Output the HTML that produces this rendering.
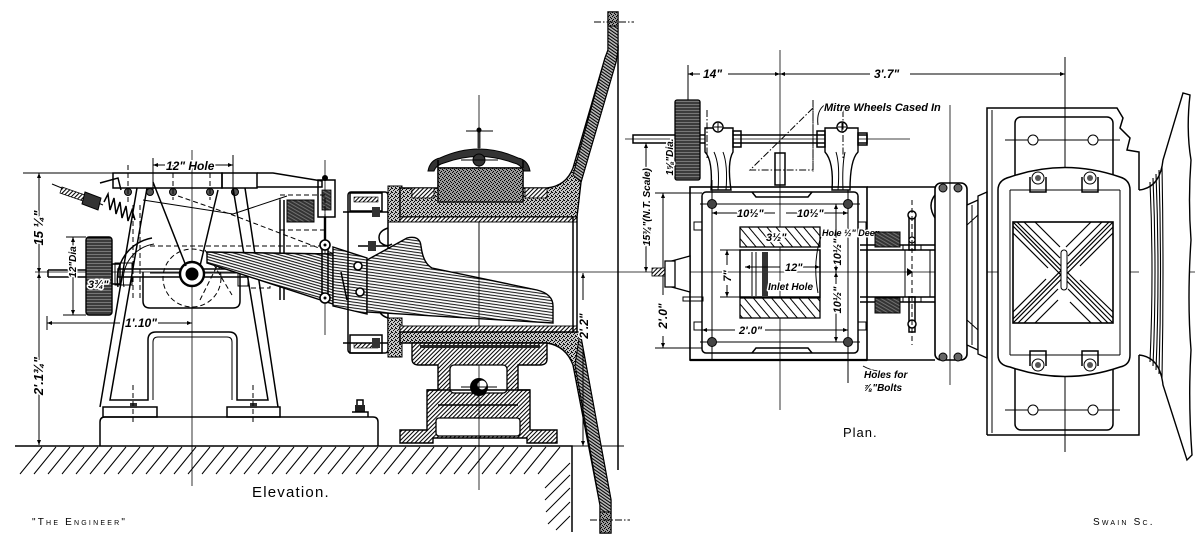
<!DOCTYPE html>
<html><head><meta charset="utf-8">
<style>
html,body{margin:0;padding:0;background:#fff;}
svg{display:block;}
text{font-family:"Liberation Sans",sans-serif;fill:#000;}
.d{font-style:italic;font-weight:bold;paint-order:stroke;stroke:#fff;stroke-width:3px;stroke-linejoin:round;}
.s{fill:none;stroke:#000;stroke-width:1.5;}
.t{fill:none;stroke:#000;stroke-width:1;}
.c{fill:none;stroke:#000;stroke-width:0.8;}
.dash{fill:none;stroke:#000;stroke-width:1;stroke-dasharray:5 3;}
.dd{fill:none;stroke:#000;stroke-width:1;stroke-dasharray:7 2 1.5 2;}
</style></head><body>
<svg width="1200" height="546" viewBox="0 0 1200 546" xmlns="http://www.w3.org/2000/svg">
<defs>
<marker id="ar" viewBox="0 0 10 10" refX="10" refY="5" markerWidth="7" markerHeight="5" orient="auto" markerUnits="userSpaceOnUse"><path d="M0 1 L10 5 L0 9 Z" fill="#000"/></marker>
<pattern id="h45" width="3" height="3" patternUnits="userSpaceOnUse" patternTransform="rotate(45)"><rect width="3" height="3" fill="#fff"/><line x1="0.5" y1="0" x2="0.5" y2="3" stroke="#000" stroke-width="1.1"/></pattern>
<pattern id="hw" width="2.6" height="2.6" patternUnits="userSpaceOnUse" patternTransform="rotate(-55)"><rect width="2.6" height="2.6" fill="#bbb"/><line x1="0.5" y1="0" x2="0.5" y2="2.6" stroke="#000" stroke-width="1.1"/></pattern>
<pattern id="st" width="4" height="4" patternUnits="userSpaceOnUse"><rect width="4" height="4" fill="#c4c4c4"/><rect x="0" y="0" width="1" height="1" fill="#000"/><rect x="2" y="1" width="1" height="1" fill="#000"/><rect x="1" y="2" width="1" height="1" fill="#111"/><rect x="3" y="3" width="1" height="1" fill="#000"/><rect x="3" y="0" width="1" height="1" fill="#333"/></pattern>
<pattern id="st2" width="4" height="4" patternUnits="userSpaceOnUse"><rect width="4" height="4" fill="#999"/><rect x="0" y="0" width="1" height="1" fill="#000"/><rect x="2" y="1" width="1" height="1" fill="#000"/><rect x="1" y="3" width="1" height="1" fill="#000"/><rect x="3" y="2" width="1" height="1" fill="#000"/></pattern>
<pattern id="pa" width="6" height="2.7" patternUnits="userSpaceOnUse" patternTransform="rotate(16)"><rect width="6" height="2.7" fill="#fff"/><line x1="0" y1="0.6" x2="6" y2="0.6" stroke="#000" stroke-width="1"/></pattern>
<pattern id="pc" width="6" height="2.9" patternUnits="userSpaceOnUse" patternTransform="rotate(8)"><rect width="6" height="2.9" fill="#fff"/><line x1="0" y1="0.6" x2="6" y2="0.6" stroke="#000" stroke-width="0.95"/></pattern>
<pattern id="rd" width="4" height="3" patternUnits="userSpaceOnUse"><rect width="4" height="3" fill="#777"/><line x1="0" y1="1" x2="4" y2="1" stroke="#000" stroke-width="1"/></pattern>
<pattern id="sl" width="7" height="7" patternUnits="userSpaceOnUse" patternTransform="rotate(-40)"><rect width="7" height="7" fill="#fff"/><line x1="0.5" y1="0" x2="0.5" y2="7" stroke="#000" stroke-width="1"/></pattern>
<pattern id="dk" width="3" height="3" patternUnits="userSpaceOnUse" patternTransform="rotate(30)"><rect width="3" height="3" fill="#333"/><line x1="0" y1="1" x2="3" y2="1" stroke="#999" stroke-width="0.6"/></pattern>
</defs>

<!-- ============ GROUND ============ -->
<path class="s" d="M15 446H572V532"/>
<path class="t" d="M572 446H624"/>
<path class="t" stroke-width="1.1" d="M20 474l22-27M34 474l22-27M48 474l22-27M62 474l22-27M76 474l22-27M90 474l22-27M104 474l22-27M118 474l22-27M132 474l22-27M146 474l22-27M160 474l22-27M174 474l22-27M188 474l22-27M202 474l22-27M216 474l22-27M230 474l22-27M244 474l22-27M258 474l22-27M272 474l22-27M286 474l22-27M300 474l22-27M314 474l22-27M328 474l22-27M342 474l22-27M356 474l22-27M370 474l22-27M384 474l22-27M398 474l22-27M412 474l22-27M426 474l22-27M440 474l22-27M454 474l22-27M468 474l22-27M482 474l22-27M496 474l22-27M510 474l22-27M524 474l22-27M538 474l22-27M545 488l25-25M545 500l25-25M546 512l24-24M548 524l22-22M556 530l14-14"/>

<!-- center lines -->
<path class="c" d="M35 272H1195"/>
<path class="c" d="M192 150V486"/>
<path class="c" d="M479 95V490"/>

<!-- ============ ELEVATION LEFT (pump frame) ============ -->
<path class="t" d="M23 173H113"/>
<rect x="113" y="173" width="109" height="15" class="s" fill="#fff"/>
<rect x="222" y="173" width="35" height="15" class="s" fill="#fff"/>
<path class="s" d="M257 173H273L322 181V187H257"/>
<circle cx="128" cy="192" r="3.5" fill="#555" stroke="#000"/>
<circle cx="150" cy="192" r="3.5" fill="#555" stroke="#000"/>
<circle cx="173" cy="192" r="3.5" fill="#555" stroke="#000"/>
<circle cx="210" cy="192" r="3.5" fill="#555" stroke="#000"/>
<circle cx="235" cy="192" r="3.5" fill="#555" stroke="#000"/>
<path class="dash" d="M128 165V205M173 165V200M210 165V200"/>
<!-- legs -->
<path class="s" d="M137 188L100 407M245 188L278 407"/>
<path class="s" d="M147 188L110 400H148V340Q148 332 156 332H229Q237 332 237 340V400H268L233 188"/>
<path class="t" d="M153 400V342Q153 337 158 337H227Q232 337 232 342V400"/>
<rect x="103" y="407" width="54" height="10" class="s" fill="#fff"/>
<rect x="227" y="407" width="53" height="10" class="s" fill="#fff"/>
<path class="s" d="M100 446V422Q100 417 105 417H373Q378 417 378 422V446"/>
<rect x="130" y="403" width="7" height="5" fill="#333"/>
<rect x="250" y="403" width="7" height="5" fill="#333"/>
<path class="dash" d="M133 385V425M253 385V425"/>
<path fill="#222" d="M355 405h10v7h-10z"/><path class="s" d="M357 405V400h6v5M352 412h16v5"/>
<!-- crank frame -->
<path class="s" d="M143 272V301Q143 308 150 308H233Q240 308 240 301V272"/>
<circle cx="192" cy="278" r="29" class="dash"/>
<rect x="118" y="269" width="130" height="8" class="s" fill="#fff"/>
<path class="t" d="M150 273H240"/>
<circle cx="192" cy="274" r="12" fill="#fff" stroke="#000" stroke-width="2.4"/>
<circle cx="192" cy="274" r="6.5" fill="#000"/>
<path class="s" d="M118 287A42 42 0 0 1 152 238"/>
<path class="t" d="M124 287A36 36 0 0 1 154 244"/>
<path class="dash" d="M133 205V300M140 205V300"/>
<rect x="115" y="263" width="17" height="22" class="t" fill="#fff"/>
<rect x="238" y="266" width="10" height="20" class="t" fill="#fff"/>
<path class="dash" d="M248 260H270V288H248"/>
<path class="s" d="M153 182L186 266M218 190L200 266"/>
<path class="dash" d="M178 196L230 214L345 258M150 246H330M200 300L225 250M205 250L232 295"/>
<path class="t" d="M143 200L233 214L287 196"/>
<!-- spring & screw -->
<path class="s" d="M104 202L108 194L110 210L114 198L116 214L120 202L122 218L126 206L128 221L132 210L135 220"/>
<path class="t" d="M52 184L103 205"/>
<polygon points="62,187 85,195 83,201 60,193" fill="url(#h45)" stroke="#000" stroke-width="0.8"/>
<polygon points="85,192 101,198 98,210 82,204" fill="#333" stroke="#000"/>
<path class="s" d="M100 183L118 178L121 190"/>
<!-- flywheel -->
<path class="s" d="M48 270H86M48 277H86M48 270V277"/>
<rect x="86" y="237" width="26" height="78" rx="3" fill="url(#rd)" stroke="#000" stroke-width="1.4"/>
<rect x="112" y="264" width="8" height="20" class="s" fill="#fff"/>
<!-- rod link -->
<path class="c" d="M325 160V335"/>
<rect x="318" y="180" width="17" height="37" class="s" fill="#fff"/>
<rect x="322" y="190" width="9" height="20" fill="url(#dk)" stroke="#000" stroke-width="0.8"/>
<circle cx="325" cy="178" r="3" fill="#000"/>
<path stroke="#000" stroke-width="2.4" d="M325 217V245"/>
<!-- dark block -->
<rect x="280" y="195" width="45" height="35" class="dash"/>
<rect x="287" y="200" width="27" height="22" fill="url(#dk)" stroke="#000"/>
<path class="s" d="M280 200V300M284 200V300"/>
<!-- pipe -->
<path d="M207 252L333 254L333 304L207 263Z" fill="url(#pa)" stroke="#000" stroke-width="1.4"/>
<path d="M333 247L367 258L367 314L333 306Z" fill="url(#pc)" stroke="#000" stroke-width="1.4"/>
<circle cx="358" cy="266" r="4" fill="#fff" stroke="#000" stroke-width="1.6"/>
<circle cx="360" cy="292" r="4" fill="#fff" stroke="#000" stroke-width="1.6"/>
<path d="M341 272L347 300" class="s"/>
<rect x="322" y="245" width="6" height="53" class="s" fill="#fff"/>
<circle cx="325" cy="245" r="5" fill="#fff" stroke="#000" stroke-width="1.6"/>
<circle cx="325" cy="298" r="5" fill="#fff" stroke="#000" stroke-width="1.6"/>
<circle cx="325" cy="245" r="1.5" fill="#000"/><circle cx="325" cy="298" r="1.5" fill="#000"/>

<!-- ============ CASING ============ -->
<rect x="348" y="192" width="40" height="161" rx="3" class="s" fill="#fff"/>
<rect x="350" y="193" width="32" height="18" class="s" fill="#fff"/>
<rect x="354" y="197" width="24" height="5" fill="url(#h45)" stroke="#000" stroke-width="0.6"/>
<rect x="350" y="335" width="32" height="18" class="s" fill="#fff"/>
<rect x="354" y="343" width="24" height="5" fill="url(#h45)" stroke="#000" stroke-width="0.6"/>
<path class="s" d="M343 212H398M343 343H398M358 246H388"/>
<rect x="372" y="207" width="8" height="10" fill="#333"/>
<rect x="372" y="338" width="8" height="10" fill="#333"/>
<rect x="368" y="241" width="8" height="10" fill="#333"/>
<path class="s" d="M388 228Q376 232 380 242Q386 248 392 244M388 318Q376 314 380 304"/>
<path d="M388 186H402V222H388Z" fill="url(#st)" stroke="#000"/>
<path d="M388 318H402V357H388Z" fill="url(#st)" stroke="#000"/>
<path d="M400 188H438V168H523V188H547Q566 186 573 168L605 58L608 50V12H618V50L616 62L581 182L577 217H400Z" fill="url(#st)" stroke="#000" stroke-width="1.4"/>
<path d="M605 58L608 50V12H618V50L616 62L581 182L573 175Z" fill="url(#hw)" stroke="#000" stroke-width="1"/>
<rect x="608" y="12" width="10" height="14" fill="url(#st2)" stroke="#000"/>
<rect x="438" y="168" width="85" height="34" fill="url(#st2)" stroke="#000" stroke-width="1.3"/>
<rect x="412" y="188" width="22" height="10" fill="url(#h45)" stroke="#000" stroke-width="0.8"/>
<rect x="525" y="188" width="22" height="10" fill="url(#h45)" stroke="#000" stroke-width="0.8"/>
<rect x="400" y="217" width="177" height="5" fill="url(#h45)" stroke="#000" stroke-width="0.9"/>
<rect x="400" y="326" width="177" height="6" fill="url(#h45)" stroke="#000" stroke-width="0.9"/>
<path d="M400 332H580L611 500V533H600V505L573 365Q566 346 547 343H400Z" fill="url(#st)" stroke="#000" stroke-width="1.4"/>
<path d="M580 332L611 500V533H600V505L575 365Z" fill="url(#hw)" stroke="#000" stroke-width="1"/>
<rect x="600" y="512" width="11" height="21" fill="url(#st2)" stroke="#000"/>
<path class="s" d="M573 217V332M577 217V332"/>
<path class="s" d="M618 45V470"/>
<path class="dd" d="M594 22H634M590 520H630"/>
<!-- dome -->
<path d="M428 171Q430 160 440 158Q479 140 518 158Q528 160 530 171L524 171Q520 164 514 163Q479 150 444 163Q436 165 434 171Z" fill="#333" stroke="#000"/>
<path class="s" d="M438 168V160M523 168V160"/>
<circle cx="479" cy="160" r="6" fill="#333" stroke="#000"/>
<rect x="477.5" y="129" width="3" height="19" fill="#333"/>
<circle cx="479" cy="130" r="2.5" fill="#000"/>
<path class="t" d="M466 131H493M461 160H498"/>
<!-- nozzle -->
<path d="M367 260L407 238Q420 235 421 246Q423 263 432 268L537 290Q553 294 553 306V323L367 312Z" fill="url(#pc)" stroke="#000" stroke-width="1.4"/>
<path class="c" d="M479 222V326"/>
<!-- pedestal -->
<path d="M412 343H547V359Q547 365 540 365H518V390H530V430H557V443H527V438H433V443H400V430H427V390H438V365H419Q412 365 412 359Z" fill="url(#h45)" stroke="#000" stroke-width="1.4"/>
<rect x="450" y="365" width="57" height="28" rx="4" fill="#fff" stroke="#000" stroke-width="1.3"/>
<rect x="436" y="418" width="84" height="18" rx="3" fill="#fff" stroke="#000" stroke-width="1.3"/>
<rect x="420" y="345" width="120" height="3" fill="#222"/>
<path class="s" d="M427 390H530M438 405H518"/>
<circle cx="479" cy="387" r="9" fill="#000"/>
<circle cx="482" cy="385" r="4.5" fill="#fff"/>
<path class="t" d="M461 387H497"/>
<path class="c" d="M479 365V446"/>
<!-- 2'2" dim -->
<path class="t" d="M583 300V273" marker-end="url(#ar)"/>
<path class="t" d="M583 350V446" marker-end="url(#ar)"/>
<text class="d" font-size="12" transform="translate(588 326) rotate(-90)" text-anchor="middle">2'.2"</text>

<!-- elevation dims -->
<path class="t" d="M153 158V190M233 155V195"/>
<path class="t" d="M165 165H153" marker-end="url(#ar)"/>
<path class="t" d="M212 165H233" marker-end="url(#ar)"/>
<text class="d" font-size="12" x="166" y="170">12" Hole</text>
<path class="t" d="M39 220V173" marker-end="url(#ar)"/>
<path class="t" d="M39 235V273" marker-end="url(#ar)"/>
<path class="t" d="M39 360V273" marker-end="url(#ar)"/>
<path class="t" d="M39 392V445" marker-end="url(#ar)"/>
<text class="d" font-size="13" transform="translate(43 228) rotate(-90)" text-anchor="middle">15 ¼"</text>
<text class="d" font-size="13" transform="translate(43 376) rotate(-90)" text-anchor="middle">2'.1¾"</text>
<path class="t" d="M66 237H86M63 315H86"/>
<path class="t" d="M73 250V237" marker-end="url(#ar)"/>
<path class="t" d="M73 275V315" marker-end="url(#ar)"/>
<text class="d" font-size="10" transform="translate(76 262) rotate(-90)" text-anchor="middle">12"Dia</text>
<text class="d" font-size="11" x="88" y="288">3¾"</text>
<path class="t" d="M47 316V330"/>
<path class="t" d="M120 323H47" marker-end="url(#ar)"/>
<path class="t" d="M158 323H192" marker-end="url(#ar)"/>
<text class="d" font-size="12" x="125" y="327">1'.10"</text>

<!-- ============ PLAN ============ -->
<path class="t" d="M688 65V132M1065 57V452"/>
<path class="c" d="M780 50V410"/>
<path class="t" d="M700 74H688" marker-end="url(#ar)"/>
<path class="t" d="M728 74H780" marker-end="url(#ar)"/>
<path class="t" d="M870 74H780" marker-end="url(#ar)"/>
<path class="t" d="M910 74H1065" marker-end="url(#ar)"/>
<text class="d" font-size="12" x="703" y="78">14"</text>
<text class="d" font-size="12" x="874" y="78">3'.7"</text>
<rect x="633" y="135" width="234" height="8" class="s" fill="#fff"/>
<path class="c" d="M625 139H910"/>
<rect x="675" y="100" width="25" height="80" rx="2" fill="url(#rd)" stroke="#000" stroke-width="1.3"/>
<path d="M705 128H733V152Q727 162 731 190H711Q713 160 705 152Z" fill="#fff" stroke="#000" stroke-width="1.4"/>
<path class="t" d="M714 152Q720 165 718 190M723 152Q728 165 726 190"/>
<rect x="733" y="131" width="8" height="16" class="s" fill="#fff"/>
<circle cx="718" cy="127" r="5" fill="#fff" stroke="#000" stroke-width="1.4"/>
<path d="M714 127h8M718 123v8" stroke="#000"/>
<path d="M825 128H858V152Q850 160 850 190H832Q834 162 825 152Z" fill="#fff" stroke="#000" stroke-width="1.4"/>
<path class="t" d="M836 152Q840 165 838 190M845 152Q842 165 843 190"/>
<rect x="817" y="131" width="8" height="16" class="s" fill="#fff"/>
<rect x="858" y="133" width="9" height="12" class="s" fill="#fff"/>
<circle cx="842" cy="127" r="5" fill="#fff" stroke="#000" stroke-width="1.4"/>
<path d="M838 127h8M842 123v8" stroke="#000"/>
<path class="dd" d="M813 108L750 170H813ZM813 100V172M707 110V160M843 110V160"/>
<rect x="775" y="153" width="10" height="32" class="s" fill="#fff"/>
<path class="t" d="M826 104Q816 110 818 125"/>
<text class="d" font-size="11" x="824" y="111">Mitre Wheels  Cased In</text>
<text class="d" font-size="10" transform="translate(673 157) rotate(-90)" text-anchor="middle">1⅝"Dia.</text>
<rect x="690" y="187" width="177" height="173" fill="none" stroke="#000" stroke-width="1.6"/>
<path stroke="#000" stroke-width="2.2" d="M690 360H867"/>
<rect x="702" y="192" width="156" height="161" rx="4" class="s" fill="#fff"/>
<path class="s" d="M752 192L756 197H808L812 192M752 353L756 348H808L812 353"/>
<rect x="694" y="222" width="8" height="8" class="t"/><rect x="694" y="322" width="8" height="8" class="t"/>
<rect x="858" y="222" width="8" height="8" class="t"/><rect x="858" y="322" width="8" height="8" class="t"/>
<path class="t" d="M712 180V360M848 190V383M700 204H860M700 342H860"/>
<circle cx="712" cy="204" r="4.5" fill="#444" stroke="#000"/>
<circle cx="848" cy="204" r="4.5" fill="#444" stroke="#000"/>
<circle cx="712" cy="342" r="4.5" fill="#444" stroke="#000"/>
<circle cx="848" cy="342" r="4.5" fill="#444" stroke="#000"/>
<path class="t" d="M775 213H712" marker-end="url(#ar)"/>
<path class="t" d="M786 213H848" marker-end="url(#ar)"/>
<text class="d" font-size="11" x="737" y="217">10½"</text>
<text class="d" font-size="11" x="797" y="217">10½"</text>
<rect x="740" y="227" width="80" height="20" fill="url(#sl)" stroke="#000" stroke-width="1.3"/>
<rect x="740" y="298" width="80" height="20" fill="url(#sl)" stroke="#000" stroke-width="1.3"/>
<rect x="740" y="250" width="80" height="47" class="s" fill="#fff"/>
<rect x="762" y="252" width="6" height="44" fill="#333"/>
<path class="t" d="M752 252V296M756 252V296"/>
<text class="d" font-size="11" x="766" y="241">3½"</text>
<path class="t" d="M720 250H740M720 297H740"/>
<path class="t" d="M727 265V250" marker-end="url(#ar)"/>
<path class="t" d="M727 285V297" marker-end="url(#ar)"/>
<text class="d" font-size="11" transform="translate(731 276) rotate(-90)" text-anchor="middle">7"</text>
<path class="t" d="M780 267H745" marker-end="url(#ar)"/>
<path class="t" d="M800 267H820" marker-end="url(#ar)"/>
<text class="d" font-size="11" x="785" y="271">12"</text>
<text class="d" font-size="10" x="768" y="290">Inlet Hole</text>
<path class="t" d="M822 234Q812 260 818 293"/>
<text class="d" font-size="9" x="822" y="236">Hole ½" Deep</text>
<path class="t" d="M836 240V204" marker-end="url(#ar)"/>
<path class="t" d="M836 262V272" marker-end="url(#ar)"/>
<path class="t" d="M836 284V272" marker-end="url(#ar)"/>
<path class="t" d="M836 312V342" marker-end="url(#ar)"/>
<text class="d" font-size="11" transform="translate(841 252) rotate(-90)" text-anchor="middle">10½"</text>
<text class="d" font-size="11" transform="translate(841 300) rotate(-90)" text-anchor="middle">10½"</text>
<path class="t" d="M735 330H702" marker-end="url(#ar)"/>
<path class="t" d="M765 330H848" marker-end="url(#ar)"/>
<text class="d" font-size="11" x="739" y="334">2'.0"</text>
<path class="t" d="M655 193H702M655 348H702M640 143H660"/>
<path class="t" d="M663 295V193" marker-end="url(#ar)"/>
<path class="t" d="M663 336V348" marker-end="url(#ar)"/>
<text class="d" font-size="12" transform="translate(667 316) rotate(-90)" text-anchor="middle">2'.0"</text>
<path class="t" d="M646 170V143" marker-end="url(#ar)"/>
<path class="t" d="M646 244V272" marker-end="url(#ar)"/>
<text class="d" font-size="10" transform="translate(650 207) rotate(-90)" text-anchor="middle">15¾"(N.T. Scale)</text>
<rect x="652" y="268" width="16" height="8" fill="url(#h45)" stroke="#000" stroke-width="0.8"/>
<path d="M668 262L690 256V292L668 286Z" fill="#fff" stroke="#000" stroke-width="1.3"/>
<rect x="665" y="261" width="10" height="26" fill="#fff" stroke="#000" stroke-width="1.3"/>
<rect x="683" y="297" width="20" height="4" class="t" fill="#fff"/>
<!-- right mechanism -->
<path class="s" d="M860 245H935M860 250H935M860 297H935M860 302H935M867 187H935M867 360H935"/>
<path class="t" d="M905 250V297M930 250V297"/>
<rect x="875" y="232" width="25" height="15" fill="url(#dk)" stroke="#000"/>
<rect x="875" y="298" width="25" height="15" fill="url(#dk)" stroke="#000"/>
<rect x="909" y="215" width="6" height="35" class="s" fill="#fff"/>
<rect x="909" y="297" width="6" height="35" class="s" fill="#fff"/>
<rect x="903" y="245" width="18" height="5" class="t" fill="#fff"/>
<rect x="903" y="297" width="18" height="5" class="t" fill="#fff"/>
<circle cx="912" cy="215" r="4" fill="#fff" stroke="#000" stroke-width="1.5"/>
<circle cx="912" cy="240" r="3" fill="#fff" stroke="#000" stroke-width="1.2"/>
<circle cx="912" cy="324" r="4" fill="#fff" stroke="#000" stroke-width="1.5"/>
<path class="dash" d="M912 200V345"/>
<path fill="#000" d="M907 268l6 4-6 4z"/>
<rect x="935" y="183" width="32" height="177" rx="6" fill="#fff" stroke="#000" stroke-width="1.6"/>
<path class="s" d="M935 195Q927 205 935 218"/>
<path class="c" d="M950 105V385"/>
<circle cx="943" cy="188" r="4" fill="#666" stroke="#000"/>
<circle cx="958" cy="188" r="4" fill="#666" stroke="#000"/>
<circle cx="943" cy="357" r="4" fill="#666" stroke="#000"/>
<circle cx="958" cy="357" r="4" fill="#666" stroke="#000"/>
<path d="M967 205L978 200V350L967 345Z" fill="#fff" stroke="#000" stroke-width="1.3"/>
<path d="M978 196L987 192V358L978 354Z" fill="#fff" stroke="#000" stroke-width="1.3"/>
<path class="t" d="M967 225L978 215M967 320L978 330M972 205V345"/>
<path class="t" d="M863 366Q870 370 878 371"/>
<text class="d" font-size="10" x="864" y="378">Holes for</text>
<text class="d" font-size="10" x="864" y="391">⅞"Bolts</text>
<text font-size="13" x="843" y="437" letter-spacing="1">Plan.</text>

<!-- ============ RIGHT VIEW ============ -->
<path class="s" d="M987 435V108H1117L1123 118L1120 128L1130 138L1127 150L1139 152V190M987 435H1139V355"/>
<path class="t" d="M992 110V433"/>
<rect x="1015" y="117" width="98" height="313" rx="6" class="s" fill="none"/>
<path class="t" d="M1005 140H1120M1005 410H1120"/>
<circle cx="1033" cy="140" r="5" fill="#fff" stroke="#000"/>
<circle cx="1093" cy="140" r="5" fill="#fff" stroke="#000"/>
<circle cx="1033" cy="410" r="5" fill="#fff" stroke="#000"/>
<circle cx="1093" cy="410" r="5" fill="#fff" stroke="#000"/>
<path d="M998 190Q998 180 1010 177Q1065 158 1120 177Q1130 180 1130 190V355Q1130 365 1120 367Q1065 386 1010 367Q998 365 998 355Z" fill="#fff" stroke="#000" stroke-width="1.5"/>
<path class="t" d="M1010 190V355M1120 190V355M1010 190H1120M1010 355H1120"/>
<path class="s" d="M1030 177V192H1046V177M1082 177V192H1098V177M1030 366V351H1046V366M1082 366V351H1098V366"/>
<circle cx="1038" cy="178" r="6" fill="#fff" stroke="#000"/><circle cx="1038" cy="178" r="3" fill="#555"/>
<circle cx="1090" cy="178" r="6" fill="#fff" stroke="#000"/><circle cx="1090" cy="178" r="3" fill="#555"/>
<circle cx="1038" cy="365" r="6" fill="#fff" stroke="#000"/><circle cx="1038" cy="365" r="3" fill="#555"/>
<circle cx="1090" cy="365" r="6" fill="#fff" stroke="#000"/><circle cx="1090" cy="365" r="3" fill="#555"/>
<rect x="1013" y="222" width="100" height="101" fill="#fff" stroke="#000" stroke-width="1.6"/>
<path stroke="#000" stroke-width="1.2" fill="none" d="M1013 222L1113 323M1113 222L1013 323M1017 222L1113 318M1013 226L1108 323M1109 222L1013 319M1113 227L1018 323M1024 222L1060 258M1013 233L1048 268M1102 222L1068 256M1113 233L1080 266M1024 323L1058 289M1013 312L1046 279M1102 323L1068 289M1113 312L1080 280M1035 222L1060 247M1091 222L1066 247M1035 323L1058 300M1091 323L1070 302"/>
<rect x="1061" y="250" width="6" height="40" rx="3" fill="#fff" stroke="#000"/>
<path d="M1139 190Q1160 188 1163 160L1183 93L1190 95Q1186 130 1191 160Q1188 200 1191 240Q1187 300 1191 350Q1188 400 1192 455L1187 460L1163 385Q1160 357 1139 355" fill="#fff" stroke="#000" stroke-width="1.4"/>
<path stroke="#000" stroke-width="1.1" fill="none" d="M1150 182Q1154 272 1150 362M1153 178Q1157 272 1153 366M1156 174Q1160 272 1156 370M1159 170Q1162 272 1159 374M1162 166Q1164 272 1162 378"/>

<!-- ============ TITLES ============ -->
<text font-size="15" x="252" y="497" letter-spacing="1.2">Elevation.</text>
<text font-size="10" x="32" y="525" letter-spacing="2.2" style="font-variant:small-caps">"The Engineer"</text>
<text font-size="10" x="1093" y="525" letter-spacing="2.2" style="font-variant:small-caps">Swain Sc.</text>
</svg>
</body></html>
